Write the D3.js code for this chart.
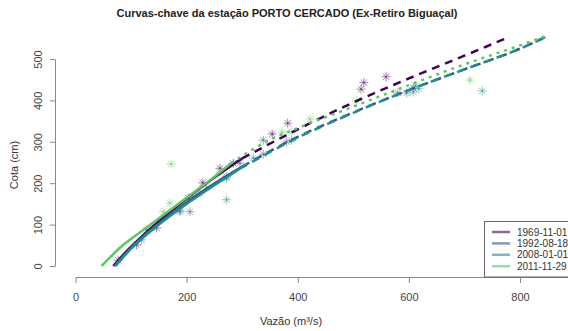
<!DOCTYPE html>
<html>
<head>
<meta charset="utf-8">
<script src="https://cdn.jsdelivr.net/npm/d3@7"></script>
<style>
body { margin: 0; background: #fff; }
text { font-family: "Liberation Sans", Arial, sans-serif; }
</style>
</head>
<body>
<script>
// series names + colours (viridis)
var seriesNames = ["1969-11-01", "1992-08-18", "2008-01-01", "2011-11-29"];
var seriesColors = ["#440154", "#3B528B", "#21908C", "#5DC863"];

// fitted curves, solid part (calibration range)
var fit1969Q = [68, 90, 120, 150, 200, 250, 300];
var fit1969H = [0, 33, 72, 108, 163, 214, 260];
var fit1992Q = [70, 100, 150, 200, 250, 300];
var fit1992H = [0, 44, 103, 154, 199, 240];
var fit2008Q = [72, 100, 150, 200, 250, 296];
var fit2008H = [0, 42, 100, 150, 195, 235];
var fit2011Q = [47, 80, 120, 160, 200, 240, 280];
var fit2011H = [0, 44, 85, 125, 165, 205, 248];

// extrapolated parts
var ext1969Q = [300, 400, 500, 600, 700, 780];
var ext1969H = [260, 330, 395, 453, 508, 553];
var ext1992Q = [300, 400, 500, 600, 700, 800, 850];
var ext1992H = [240, 312, 371, 425, 475, 525, 556];
var ext2008Q = [296, 400, 500, 600, 700, 800, 850];
var ext2008H = [235, 310, 370, 425, 475, 525, 555];
var ext2011Q = [280, 350, 400, 500, 600, 700, 800, 850];
var ext2011H = [248, 305, 333, 385, 437, 487, 533, 557];

// measurements
var obs1969Q = [77, 110, 146, 203, 229, 260, 284, 354, 382, 514, 519, 559];
var obs1969H = [14, 51, 92, 164, 201, 236, 248, 319, 345, 427, 443, 457];
var obs1992Q = [119, 128, 188, 206, 212, 224, 272, 296, 338, 338, 380, 580, 596, 608];
var obs1992H = [63, 87, 131, 131, 167, 176, 216, 248, 304, 270, 300, 418, 418, 430];
var obs2008Q = [188, 272, 272, 320, 389, 608, 612, 618, 732];
var obs2008H = [135, 212, 160, 261, 304, 420, 435, 428, 423];
var obs2011Q = [158, 170, 172, 236, 260, 372, 389, 422, 506, 710];
var obs2011H = [131, 152, 246, 191, 225, 323, 323, 355, 400, 449];

var xTicks = [0, 200, 400, 600, 800];
var yTicks = [0, 100, 200, 300, 400, 500];

var width = 568, height = 331;

var svg = d3.select("body").append("svg")
  .attr("width", width)
  .attr("height", height);

var x = d3.scaleLinear().domain([0, 800]).range([75.5, 520]);
var y = d3.scaleLinear().domain([0, 500]).range([266, 59]);

function zip(qs, hs) {
  return qs.map(function(q, i) { return {Q: q, H: hs[i]}; });
}

var fits = [zip(fit1969Q, fit1969H), zip(fit1992Q, fit1992H), zip(fit2008Q, fit2008H), zip(fit2011Q, fit2011H)];
var exts = [zip(ext1969Q, ext1969H), zip(ext1992Q, ext1992H), zip(ext2008Q, ext2008H), zip(ext2011Q, ext2011H)];
var obs = [zip(obs1969Q, obs1969H), zip(obs1992Q, obs1992H), zip(obs2008Q, obs2008H), zip(obs2011Q, obs2011H)];
var extDash = ["8,6", "8,6", "8,6", "3,5"];

var line = d3.line()
  .x(function(d) { return x(d.Q); })
  .y(function(d) { return y(d.H); })
  .curve(d3.curveMonotoneX);

// asterisk (pch = 8)
function star(r) {
  var d = r * 0.7071;
  return "M" + (-r) + ",0L" + r + ",0M0," + (-r) + "L0," + r +
    "M" + (-d) + "," + (-d) + "L" + d + "," + d +
    "M" + (-d) + "," + d + "L" + d + "," + (-d);
}

// points
obs.forEach(function(pts, i) {
  svg.append("g").selectAll("path")
    .data(pts)
    .enter().append("path")
    .attr("transform", function(d) { return "translate(" + x(d.Q) + "," + y(d.H) + ")"; })
    .attr("d", star(4.5))
    .attr("stroke", seriesColors[i])
    .attr("stroke-opacity", 0.5)
    .attr("stroke-width", 1)
    .attr("fill", "none");
});

// curves
fits.forEach(function(pts, i) {
  svg.append("path")
    .datum(pts)
    .attr("fill", "none")
    .attr("stroke", seriesColors[i])
    .attr("stroke-width", 2.5)
    .attr("d", line);
  svg.append("path")
    .datum(exts[i])
    .attr("fill", "none")
    .attr("stroke", seriesColors[i])
    .attr("stroke-width", 2.5)
    .attr("stroke-dasharray", extDash[i])
    .attr("d", line);
});

// axes (x axis line runs on past the last tick, to the picture edge)
var xAxisScale = x.copy().domain([0, 1000]).range([x(0), x(1000)]);
var xAxis = svg.append("g")
  .attr("transform", "translate(0,277)")
  .call(d3.axisBottom(xAxisScale).tickValues(xTicks).tickSize(6).tickSizeOuter(0).tickPadding(10));

var yAxisScale = y.copy().range([y(0), y(500)]);
var yAxis = svg.append("g")
  .attr("transform", "translate(55,0)")
  .call(d3.axisLeft(yAxisScale).tickValues(yTicks).tickSize(5).tickSizeOuter(0));

[xAxis, yAxis].forEach(function(g) {
  g.select(".domain").attr("stroke", "#888");
  g.selectAll(".tick line").attr("stroke", "#888");
  g.selectAll(".tick text").attr("fill", "#444").style("font-size", "11px");
});
yAxis.selectAll(".tick text")
  .attr("transform", "rotate(-90)")
  .attr("x", 0).attr("y", -13)
  .attr("dy", "0")
  .style("text-anchor", "middle");

// titles
svg.append("text")
  .attr("x", 287).attr("y", 17)
  .attr("text-anchor", "middle")
  .style("font-size", "11px")
  .style("font-weight", "bold")
  .attr("fill", "#222")
  .text("Curvas-chave da estação PORTO CERCADO (Ex-Retiro Biguaçal)");

svg.append("text")
  .attr("x", 291).attr("y", 325)
  .attr("text-anchor", "middle")
  .style("font-size", "11px")
  .attr("fill", "#333")
  .text("Vazão (m³/s)");

svg.append("text")
  .attr("transform", "translate(18,165) rotate(-90)")
  .attr("text-anchor", "middle")
  .style("font-size", "11px")
  .attr("fill", "#333")
  .text("Cota (cm)");

// legend
var legend = svg.append("g");
legend.append("rect")
  .attr("x", 484.5).attr("y", 221.5)
  .attr("width", 100).attr("height", 55.5)
  .attr("fill", "#fff")
  .attr("stroke", "#666");
seriesNames.forEach(function(name, i) {
  var ly = 232 + i * 11.4;
  legend.append("line")
    .attr("x1", 492).attr("x2", 510)
    .attr("y1", ly).attr("y2", ly)
    .attr("stroke", seriesColors[i])
    .attr("stroke-opacity", 0.6)
    .attr("stroke-width", 2.5);
  legend.append("text")
    .attr("x", 517).attr("y", ly + 3.5)
    .style("font-size", "10px")
    .attr("fill", "#333")
    .text(name);
});
</script>
</body>
</html>
